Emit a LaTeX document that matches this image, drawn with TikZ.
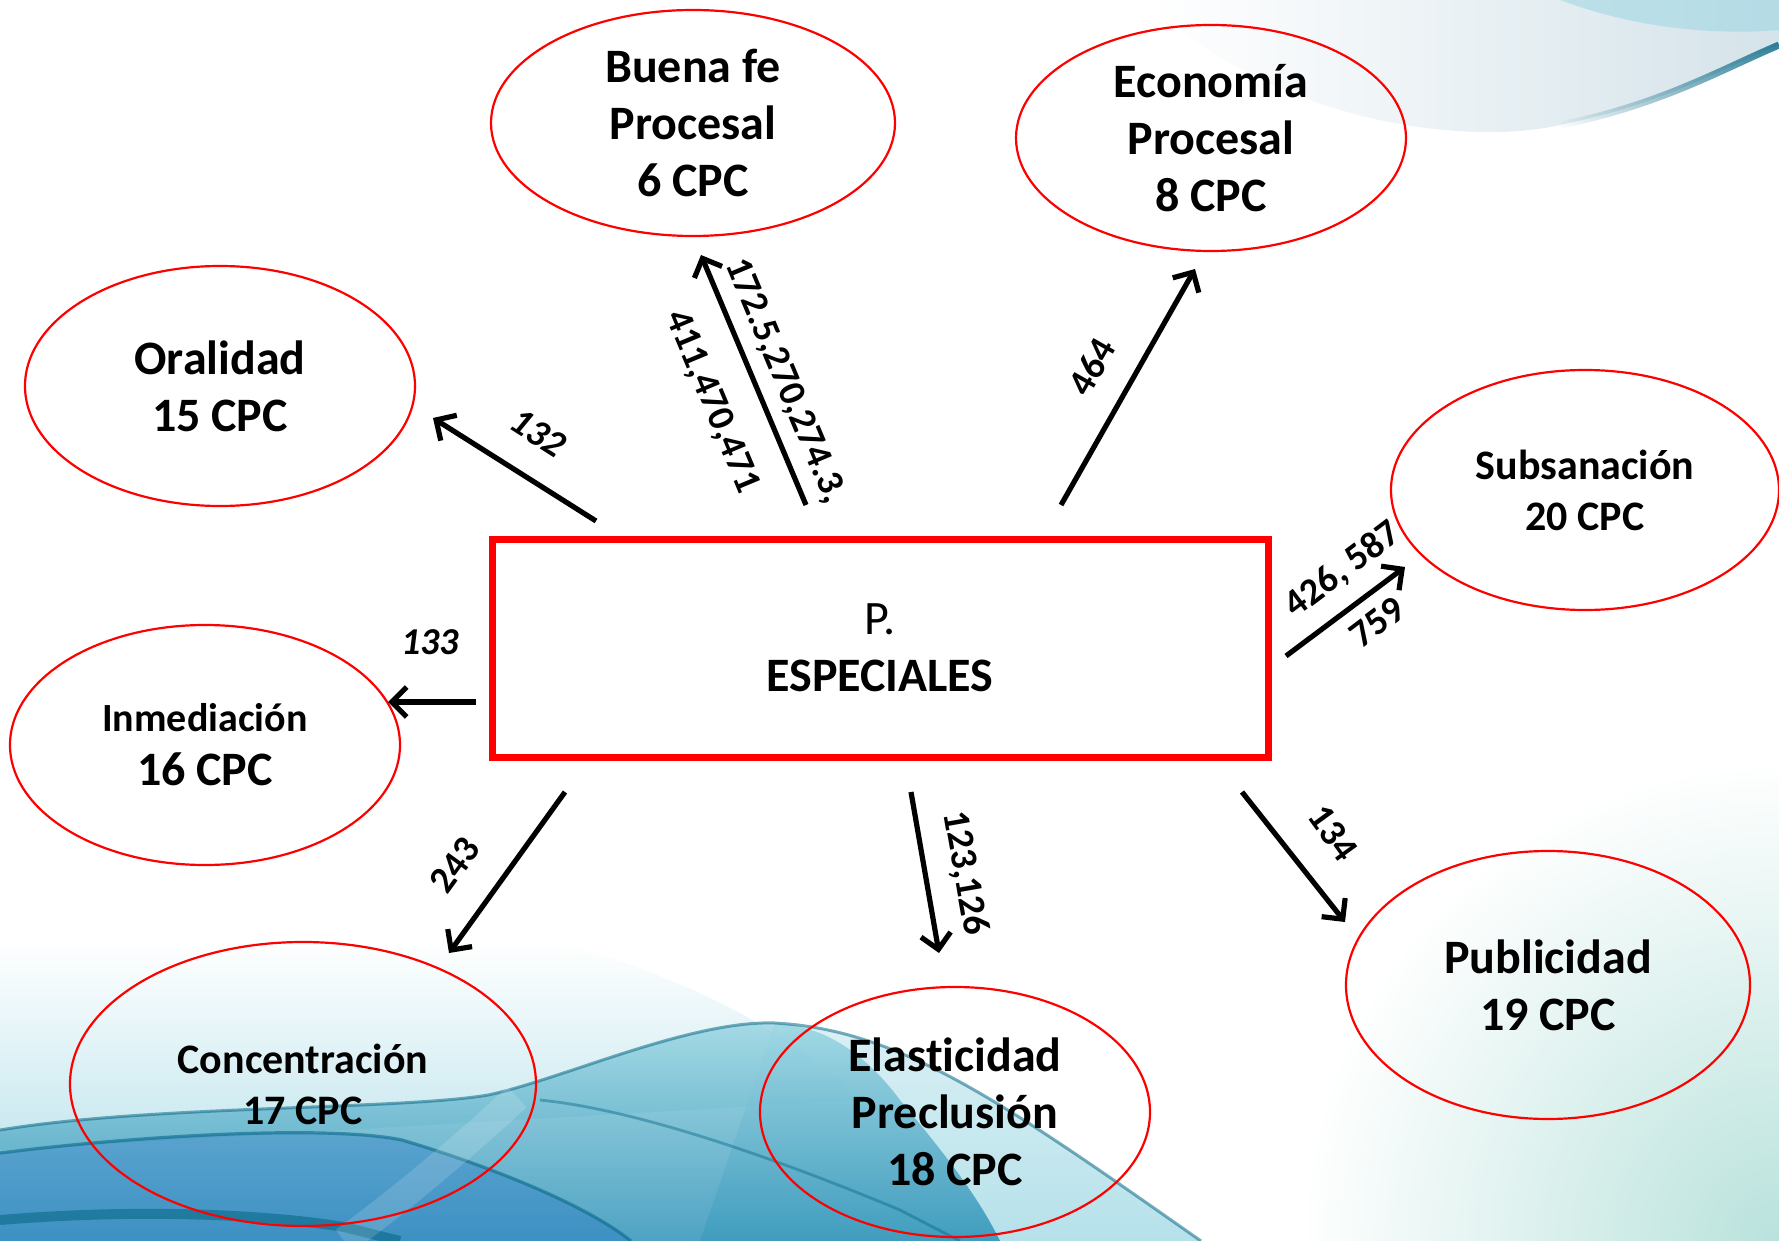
\documentclass[tikz,border=0pt]{standalone}
\usepackage{fontspec}
\setmainfont{Carlito}[Ligatures=CommonOff]
\usetikzlibrary{arrows.meta,shapes.geometric,fadings}
\definecolor{ered}{RGB}{255,0,0}
\definecolor{tealA}{RGB}{35,140,180}
\definecolor{tealD}{RGB}{10,105,135}
\definecolor{tealL}{RGB}{150,212,225}
\definecolor{paleT}{RGB}{205,222,230}
\definecolor{mint}{RGB}{185,226,220}
\begin{document}
\begin{tikzpicture}[x=0.5pt,y=-0.5pt,
 ering/.style={draw=ered, line width=1.1pt, ellipse, inner sep=0pt},
 etext/.style={align=center, font=\bfseries\fontsize{24}{28.5}\selectfont},
 esmall/.style={align=center, font=\bfseries\fontsize{21}{25.5}\selectfont},
 conn/.style={line width=2.6pt, -{Straight Barb[length=7.5pt,width=15pt]}},
 num/.style={font=\bfseries\fontsize{19}{22}\selectfont, inner sep=0pt},
 numi/.style={font=\bfseries\itshape\fontsize{19}{22}\selectfont, inner sep=0pt},
]
\useasboundingbox (0,0) rectangle (1779,1241);
% ---------- background waves ----------
\shade[top color=white, bottom color=tealL!55] (0,940) -- (550,940) .. controls (700,980) and (800,1040) .. (860,1100) -- (0,1150) -- cycle;
\shade[inner color=mint, outer color=white] (1779,1241) circle [radius=480];
\shade[top color=tealL!50, bottom color=tealL, opacity=0.7] (775,1023) .. controls (900,1030) and (1000,1100) .. (1201,1241) -- (700,1241) -- cycle;
\shade[top color=tealL, bottom color=tealA, opacity=0.8] (0,1130) .. controls (150,1105) and (400,1110) .. (488,1095) .. controls (560,1080) and (690,1020) .. (775,1023) .. controls (830,1026) and (870,1060) .. (900,1100) .. controls (950,1160) and (980,1200) .. (1000,1241) -- (0,1241) -- cycle;
\fill[tealA!80!blue, opacity=0.35] (0,1153) .. controls (143,1135) and (330,1125) .. (402,1140) .. controls (470,1160) and (580,1200) .. (631,1241) -- (0,1241) -- cycle;
\draw[tealD, opacity=0.55, line width=1.5pt] (0,1130) .. controls (150,1105) and (400,1110) .. (488,1095) .. controls (560,1080) and (690,1020) .. (775,1023) .. controls (900,1030) and (1000,1100) .. (1201,1241);
\draw[tealD, opacity=0.6, line width=1.6pt] (0,1153) .. controls (143,1135) and (330,1125) .. (402,1140) .. controls (470,1160) and (580,1200) .. (631,1241);
\draw[tealD, opacity=0.45, line width=1.4pt] (540,1100) .. controls (640,1110) and (780,1160) .. (900,1210) -- (960,1241);
\draw[tealD, opacity=0.6, line width=5pt] (0,1220) .. controls (120,1210) and (250,1212) .. (344,1227) -- (400,1241);
\draw[white, opacity=0.15, line width=14pt] (517,1097) .. controls (460,1150) and (400,1200) .. (344,1241);
\fill[paleT, opacity=0.85, path fading=west] (1150,0) .. controls (1250,110) and (1450,150) .. (1560,125) .. controls (1660,105) and (1720,70) .. (1779,45) -- (1779,0) -- cycle;
\fill[tealL, opacity=0.5] (1560,0) .. controls (1640,30) and (1720,35) .. (1779,30) -- (1779,0) -- cycle;
\draw[tealD, opacity=0.85, line width=3.5pt, path fading=west] (1560,125) .. controls (1660,105) and (1720,70) .. (1779,45);
% ---------- centre ----------
\node[draw=ered, line width=3.5pt, minimum width=388pt, minimum height=109pt, align=center,
      font=\fontsize{24}{28.5}\selectfont] (pe) at (880,648) {P.\\ \textbf{ESPECIALES}};
% ---------- ellipses ----------
\node[ering, minimum width=202pt, minimum height=113pt] (buena) at (693,123) {};
\node[etext] at (buena) {Buena fe\\Procesal\\6 CPC};
\node[ering, minimum width=195pt, minimum height=113pt] (econ) at (1211,138) {};
\node[etext] at (econ) {Economía\\Procesal\\8 CPC};
\node[ering, minimum width=195pt, minimum height=120pt] (oral) at (220,386) {};
\node[etext] at (oral) {Oralidad\\15 CPC};
\node[ering, minimum width=194pt, minimum height=120pt] (subs) at (1585,490) {};
\node[esmall] at (subs) {Subsanación\\20 CPC};
\node[ering, minimum width=195pt, minimum height=120pt] (inme) at (205,745) {};
\node[align=center, font=\bfseries\fontsize{24}{27}\selectfont] at (inme) {{\fontsize{20}{27}\selectfont Inmediación}\\16 CPC};
\node[ering, minimum width=233pt, minimum height=142pt] (conc) at (303,1084) {};
\node[esmall] at (conc) {Concentración\\17 CPC};
\node[ering, minimum width=195pt, minimum height=125pt] (elas) at (955,1112) {};
\node[etext] at (elas) {Elasticidad\\Preclusión\\18 CPC};
\node[ering, minimum width=202pt, minimum height=134pt] (publ) at (1548,985) {};
\node[etext] at (publ) {Publicidad\\19 CPC};
% ---------- connector ends ----------
\coordinate (s1) at (596,521); \coordinate (e1) at (433,418);
\coordinate (s2) at (806,505); \coordinate (e2) at (701,255);
\coordinate (s3) at (1061,505); \coordinate (e3) at (1195,269);
\coordinate (s4) at (1286,656); \coordinate (e4) at (1405,567);
\coordinate (s5) at (476,702); \coordinate (e5) at (388,702);
\coordinate (s6) at (565,792); \coordinate (e6) at (449,953);
\coordinate (s7) at (911,792); \coordinate (e7) at (939,953);
\coordinate (s8) at (1242,792); \coordinate (e8) at (1345,922);
\draw[conn] (s1) -- (e1);
\draw[conn] (s2) -- (e2);
\draw[conn] (s3) -- (e3);
\draw[conn] (s4) -- (e4);
\draw[conn] (s5) -- (e5);
\draw[conn] (s6) -- (e6);
\draw[conn] (s7) -- (e7);
\draw[conn] (s8) -- (e8);
% ---------- labels ----------
\node[numi, rotate=-32.5] (l1) at (538,433) {132};
\node[num, rotate=-67.3] (l2a) at (712,402) {411,470,471};
\node[num, rotate=-67.3] (l2b) at (785,381) {172.5,270,274.3,};
\node[num, rotate=60.4] (l3) at (1092,367) {464};
\node[num, rotate=37] (l4a) at (1343,570) {426, 587};
\node[num, rotate=37] (l4b) at (1377,622) {759};
\node[numi] (l5) at (430,642) {133};
\node[num, rotate=54] (l6) at (455,865) {243};
\node[num, rotate=-80] (l7) at (965,873) {123,126};
\node[num, rotate=-54] (l8) at (1333,833) {134};
\end{tikzpicture}
\end{document}
